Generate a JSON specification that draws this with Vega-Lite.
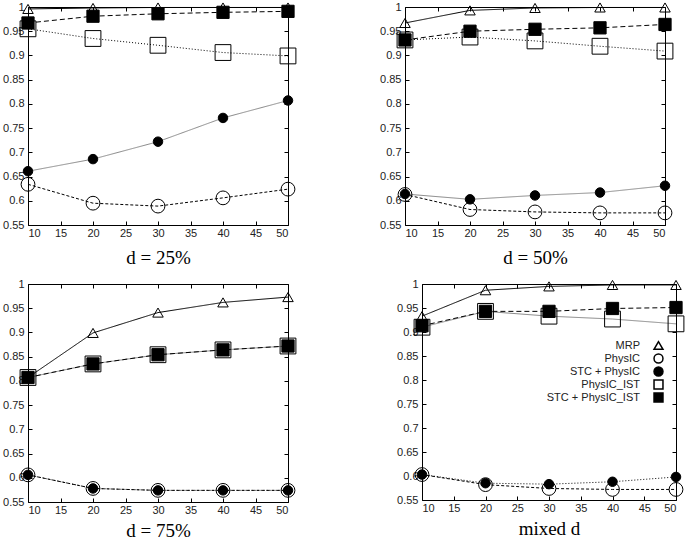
{
  "$schema": "https://vega.github.io/schema/vega-lite/v6.json",
  "padding": {"left": 2, "top": 0, "right": 0, "bottom": 0},
  "background": "white",
  "config": {
    "view": {"stroke": "black", "strokeWidth": 1},
    "axis": {"grid": false, "domain": false, "labelFont": "Liberation Sans", "labelFontSize": 11, "labelColor": "#222", "tickColor": "black", "titleFont": "Liberation Serif", "titleFontSize": 19, "titleFontWeight": "normal", "titleColor": "black"},
    "legend": {"labelFont": "Liberation Sans", "labelFontSize": 11, "labelColor": "#222"}
  },
  "data": {"values": [
    {"panel": "p1", "series": "MRP", "n": 10, "v": 0.996},
    {"panel": "p1", "series": "MRP", "n": 20, "v": 0.998},
    {"panel": "p1", "series": "MRP", "n": 30, "v": 0.999},
    {"panel": "p1", "series": "MRP", "n": 40, "v": 0.999},
    {"panel": "p1", "series": "MRP", "n": 50, "v": 0.999},
    {"panel": "p1", "series": "PhysIC", "n": 10, "v": 0.634},
    {"panel": "p1", "series": "PhysIC", "n": 20, "v": 0.595},
    {"panel": "p1", "series": "PhysIC", "n": 30, "v": 0.589},
    {"panel": "p1", "series": "PhysIC", "n": 40, "v": 0.606},
    {"panel": "p1", "series": "PhysIC", "n": 50, "v": 0.624},
    {"panel": "p1", "series": "STC + PhysIC", "n": 10, "v": 0.661},
    {"panel": "p1", "series": "STC + PhysIC", "n": 20, "v": 0.686},
    {"panel": "p1", "series": "STC + PhysIC", "n": 30, "v": 0.722},
    {"panel": "p1", "series": "STC + PhysIC", "n": 40, "v": 0.771},
    {"panel": "p1", "series": "STC + PhysIC", "n": 50, "v": 0.807},
    {"panel": "p1", "series": "PhysIC_IST", "n": 10, "v": 0.955},
    {"panel": "p1", "series": "PhysIC_IST", "n": 20, "v": 0.935},
    {"panel": "p1", "series": "PhysIC_IST", "n": 30, "v": 0.921},
    {"panel": "p1", "series": "PhysIC_IST", "n": 40, "v": 0.906},
    {"panel": "p1", "series": "PhysIC_IST", "n": 50, "v": 0.899},
    {"panel": "p1", "series": "STC + PhysIC_IST", "n": 10, "v": 0.967},
    {"panel": "p1", "series": "STC + PhysIC_IST", "n": 20, "v": 0.981},
    {"panel": "p1", "series": "STC + PhysIC_IST", "n": 30, "v": 0.986},
    {"panel": "p1", "series": "STC + PhysIC_IST", "n": 40, "v": 0.989},
    {"panel": "p1", "series": "STC + PhysIC_IST", "n": 50, "v": 0.991},

    {"panel": "p2", "series": "MRP", "n": 10, "v": 0.967},
    {"panel": "p2", "series": "MRP", "n": 20, "v": 0.993},
    {"panel": "p2", "series": "MRP", "n": 30, "v": 0.998},
    {"panel": "p2", "series": "MRP", "n": 40, "v": 0.999},
    {"panel": "p2", "series": "MRP", "n": 50, "v": 0.999},
    {"panel": "p2", "series": "PhysIC", "n": 10, "v": 0.613},
    {"panel": "p2", "series": "PhysIC", "n": 20, "v": 0.582},
    {"panel": "p2", "series": "PhysIC", "n": 30, "v": 0.577},
    {"panel": "p2", "series": "PhysIC", "n": 40, "v": 0.575},
    {"panel": "p2", "series": "PhysIC", "n": 50, "v": 0.575},
    {"panel": "p2", "series": "STC + PhysIC", "n": 10, "v": 0.614},
    {"panel": "p2", "series": "STC + PhysIC", "n": 20, "v": 0.603},
    {"panel": "p2", "series": "STC + PhysIC", "n": 30, "v": 0.611},
    {"panel": "p2", "series": "STC + PhysIC", "n": 40, "v": 0.617},
    {"panel": "p2", "series": "STC + PhysIC", "n": 50, "v": 0.631},
    {"panel": "p2", "series": "PhysIC_IST", "n": 10, "v": 0.932},
    {"panel": "p2", "series": "PhysIC_IST", "n": 20, "v": 0.938},
    {"panel": "p2", "series": "PhysIC_IST", "n": 30, "v": 0.930},
    {"panel": "p2", "series": "PhysIC_IST", "n": 40, "v": 0.919},
    {"panel": "p2", "series": "PhysIC_IST", "n": 50, "v": 0.909},
    {"panel": "p2", "series": "STC + PhysIC_IST", "n": 10, "v": 0.932},
    {"panel": "p2", "series": "STC + PhysIC_IST", "n": 20, "v": 0.950},
    {"panel": "p2", "series": "STC + PhysIC_IST", "n": 30, "v": 0.954},
    {"panel": "p2", "series": "STC + PhysIC_IST", "n": 40, "v": 0.957},
    {"panel": "p2", "series": "STC + PhysIC_IST", "n": 50, "v": 0.964},

    {"panel": "p3", "series": "MRP", "n": 10, "v": 0.807},
    {"panel": "p3", "series": "MRP", "n": 20, "v": 0.899},
    {"panel": "p3", "series": "MRP", "n": 30, "v": 0.941},
    {"panel": "p3", "series": "MRP", "n": 40, "v": 0.962},
    {"panel": "p3", "series": "MRP", "n": 50, "v": 0.973},
    {"panel": "p3", "series": "PhysIC", "n": 10, "v": 0.606},
    {"panel": "p3", "series": "PhysIC", "n": 20, "v": 0.578},
    {"panel": "p3", "series": "PhysIC", "n": 30, "v": 0.574},
    {"panel": "p3", "series": "PhysIC", "n": 40, "v": 0.574},
    {"panel": "p3", "series": "PhysIC", "n": 50, "v": 0.574},
    {"panel": "p3", "series": "STC + PhysIC", "n": 10, "v": 0.606},
    {"panel": "p3", "series": "STC + PhysIC", "n": 20, "v": 0.578},
    {"panel": "p3", "series": "STC + PhysIC", "n": 30, "v": 0.574},
    {"panel": "p3", "series": "STC + PhysIC", "n": 40, "v": 0.574},
    {"panel": "p3", "series": "STC + PhysIC", "n": 50, "v": 0.574},
    {"panel": "p3", "series": "PhysIC_IST", "n": 10, "v": 0.807},
    {"panel": "p3", "series": "PhysIC_IST", "n": 20, "v": 0.835},
    {"panel": "p3", "series": "PhysIC_IST", "n": 30, "v": 0.854},
    {"panel": "p3", "series": "PhysIC_IST", "n": 40, "v": 0.864},
    {"panel": "p3", "series": "PhysIC_IST", "n": 50, "v": 0.872},
    {"panel": "p3", "series": "STC + PhysIC_IST", "n": 10, "v": 0.807},
    {"panel": "p3", "series": "STC + PhysIC_IST", "n": 20, "v": 0.835},
    {"panel": "p3", "series": "STC + PhysIC_IST", "n": 30, "v": 0.854},
    {"panel": "p3", "series": "STC + PhysIC_IST", "n": 40, "v": 0.864},
    {"panel": "p3", "series": "STC + PhysIC_IST", "n": 50, "v": 0.872},

    {"panel": "p4", "series": "MRP", "n": 10, "v": 0.933},
    {"panel": "p4", "series": "MRP", "n": 20, "v": 0.987},
    {"panel": "p4", "series": "MRP", "n": 30, "v": 0.995},
    {"panel": "p4", "series": "MRP", "n": 40, "v": 0.998},
    {"panel": "p4", "series": "MRP", "n": 50, "v": 0.998},
    {"panel": "p4", "series": "PhysIC", "n": 10, "v": 0.603},
    {"panel": "p4", "series": "PhysIC", "n": 20, "v": 0.582},
    {"panel": "p4", "series": "PhysIC", "n": 30, "v": 0.574},
    {"panel": "p4", "series": "PhysIC", "n": 40, "v": 0.572},
    {"panel": "p4", "series": "PhysIC", "n": 50, "v": 0.572},
    {"panel": "p4", "series": "STC + PhysIC", "n": 10, "v": 0.603},
    {"panel": "p4", "series": "STC + PhysIC", "n": 20, "v": 0.585},
    {"panel": "p4", "series": "STC + PhysIC", "n": 30, "v": 0.583},
    {"panel": "p4", "series": "STC + PhysIC", "n": 40, "v": 0.588},
    {"panel": "p4", "series": "STC + PhysIC", "n": 50, "v": 0.598},
    {"panel": "p4", "series": "PhysIC_IST", "n": 10, "v": 0.910},
    {"panel": "p4", "series": "PhysIC_IST", "n": 20, "v": 0.943},
    {"panel": "p4", "series": "PhysIC_IST", "n": 30, "v": 0.933},
    {"panel": "p4", "series": "PhysIC_IST", "n": 40, "v": 0.927},
    {"panel": "p4", "series": "PhysIC_IST", "n": 50, "v": 0.917},
    {"panel": "p4", "series": "STC + PhysIC_IST", "n": 10, "v": 0.913},
    {"panel": "p4", "series": "STC + PhysIC_IST", "n": 20, "v": 0.943},
    {"panel": "p4", "series": "STC + PhysIC_IST", "n": 30, "v": 0.943},
    {"panel": "p4", "series": "STC + PhysIC_IST", "n": 40, "v": 0.949},
    {"panel": "p4", "series": "STC + PhysIC_IST", "n": 50, "v": 0.951}
  ]},
  "columns": 2,
  "align": "none",
  "spacing": {"row": 9, "column": 80},
  "resolve": {"scale": {"strokeDash": "independent", "color": "independent", "shape": "independent", "fill": "independent", "size": "independent"}, "legend": {"shape": "independent", "fill": "independent", "size": "independent", "color": "independent", "strokeDash": "independent"}},
  "concat": [
    {
      "width": 260, "height": 218,
      "transform": [{"filter": "datum.panel === 'p1'"}],
      "layer": [
        {
          "mark": {"type": "line", "strokeWidth": 1},
          "encoding": {
            "x": {"field": "n", "type": "quantitative", "scale": {"domain": [10, 50], "nice": false}, "axis": {"orient": "bottom", "values": [10,15,20,25,30,35,40,45,50], "tickSize": -4, "labelPadding": 6, "title": "d = 25%", "titlePadding": 10}},
            "y": {"field": "v", "type": "quantitative", "scale": {"domain": [0.55, 1], "nice": false, "zero": false}, "axis": {"orient": "left", "values": [0.55,0.6,0.65,0.7,0.75,0.8,0.85,0.9,0.95,1], "format": "~g", "tickSize": -4, "labelPadding": 8, "title": null}},
            "strokeDash": {"field": "series", "type": "nominal", "scale": {"domain": ["MRP", "PhysIC", "STC + PhysIC", "PhysIC_IST", "STC + PhysIC_IST"], "range": [[1, 0], [3, 2], [1, 0], [1, 2], [5, 3]]}, "legend": null},
            "color": {"field": "series", "type": "nominal", "scale": {"domain": ["MRP", "PhysIC", "STC + PhysIC", "PhysIC_IST", "STC + PhysIC_IST"], "range": ["black", "black", "#888", "black", "black"]}, "legend": null}
          }
        },
        {
          "mark": {"type": "point", "stroke": "black", "strokeWidth": 1, "opacity": 1},
          "encoding": {
            "x": {"field": "n", "type": "quantitative", "axis": {"orient": "top", "values": [10,15,20,25,30,35,40,45,50], "labels": false, "tickSize": -4, "title": null}},
            "y": {"field": "v", "type": "quantitative", "axis": {"orient": "right", "values": [0.55,0.6,0.65,0.7,0.75,0.8,0.85,0.9,0.95,1], "labels": false, "tickSize": -4, "title": null}},
            "shape": {"field": "series", "type": "nominal", "scale": {"domain": ["MRP", "PhysIC", "STC + PhysIC", "PhysIC_IST", "STC + PhysIC_IST"], "range": ["triangle-up", "circle", "circle", "square", "square"]}, "legend": null},
            "fill": {"field": "series", "type": "nominal", "scale": {"domain": ["MRP", "PhysIC", "STC + PhysIC", "PhysIC_IST", "STC + PhysIC_IST"], "range": ["transparent", "transparent", "black", "transparent", "black"]}, "legend": null},
            "size": {"field": "series", "type": "nominal", "scale": {"type": "ordinal", "domain": ["MRP", "PhysIC", "STC + PhysIC", "PhysIC_IST", "STC + PhysIC_IST"], "range": [110, 190, 90, 250, 150]}, "legend": null}
          }
        }
      ],
      "resolve": {"axis": {"x": "independent", "y": "independent"}}
    },
    {
      "width": 260, "height": 218,
      "transform": [{"filter": "datum.panel === 'p2'"}],
      "layer": [
        {
          "mark": {"type": "line", "strokeWidth": 1},
          "encoding": {
            "x": {"field": "n", "type": "quantitative", "scale": {"domain": [10, 50], "nice": false}, "axis": {"orient": "bottom", "values": [10,15,20,25,30,35,40,45,50], "tickSize": -4, "labelPadding": 6, "title": "d = 50%", "titlePadding": 10}},
            "y": {"field": "v", "type": "quantitative", "scale": {"domain": [0.55, 1], "nice": false, "zero": false}, "axis": {"orient": "left", "values": [0.55,0.6,0.65,0.7,0.75,0.8,0.85,0.9,0.95,1], "format": "~g", "tickSize": -4, "labelPadding": 8, "title": null}},
            "strokeDash": {"field": "series", "type": "nominal", "scale": {"domain": ["MRP", "PhysIC", "STC + PhysIC", "PhysIC_IST", "STC + PhysIC_IST"], "range": [[1, 0], [3, 2], [1, 0], [1, 2], [5, 3]]}, "legend": null},
            "color": {"field": "series", "type": "nominal", "scale": {"domain": ["MRP", "PhysIC", "STC + PhysIC", "PhysIC_IST", "STC + PhysIC_IST"], "range": ["black", "black", "#888", "black", "black"]}, "legend": null}
          }
        },
        {
          "mark": {"type": "point", "stroke": "black", "strokeWidth": 1, "opacity": 1},
          "encoding": {
            "x": {"field": "n", "type": "quantitative", "axis": {"orient": "top", "values": [10,15,20,25,30,35,40,45,50], "labels": false, "tickSize": -4, "title": null}},
            "y": {"field": "v", "type": "quantitative", "axis": {"orient": "right", "values": [0.55,0.6,0.65,0.7,0.75,0.8,0.85,0.9,0.95,1], "labels": false, "tickSize": -4, "title": null}},
            "shape": {"field": "series", "type": "nominal", "scale": {"domain": ["MRP", "PhysIC", "STC + PhysIC", "PhysIC_IST", "STC + PhysIC_IST"], "range": ["triangle-up", "circle", "circle", "square", "square"]}, "legend": null},
            "fill": {"field": "series", "type": "nominal", "scale": {"domain": ["MRP", "PhysIC", "STC + PhysIC", "PhysIC_IST", "STC + PhysIC_IST"], "range": ["transparent", "transparent", "black", "transparent", "black"]}, "legend": null},
            "size": {"field": "series", "type": "nominal", "scale": {"type": "ordinal", "domain": ["MRP", "PhysIC", "STC + PhysIC", "PhysIC_IST", "STC + PhysIC_IST"], "range": [110, 190, 90, 250, 150]}, "legend": null}
          }
        }
      ],
      "resolve": {"axis": {"x": "independent", "y": "independent"}}
    },
    {
      "width": 260, "height": 218,
      "transform": [{"filter": "datum.panel === 'p3'"}],
      "layer": [
        {
          "mark": {"type": "line", "strokeWidth": 1},
          "encoding": {
            "x": {"field": "n", "type": "quantitative", "scale": {"domain": [10, 50], "nice": false}, "axis": {"orient": "bottom", "values": [10,15,20,25,30,35,40,45,50], "tickSize": -4, "labelPadding": 6, "title": "d = 75%", "titlePadding": 6}},
            "y": {"field": "v", "type": "quantitative", "scale": {"domain": [0.55, 1], "nice": false, "zero": false}, "axis": {"orient": "left", "values": [0.55,0.6,0.65,0.7,0.75,0.8,0.85,0.9,0.95,1], "format": "~g", "tickSize": -4, "labelPadding": 8, "title": null}},
            "strokeDash": {"field": "series", "type": "nominal", "scale": {"domain": ["MRP", "PhysIC", "STC + PhysIC", "PhysIC_IST", "STC + PhysIC_IST"], "range": [[1, 0], [3, 2], [1, 2], [1, 0], [5, 3]]}, "legend": null},
            "color": {"field": "series", "type": "nominal", "scale": {"domain": ["MRP", "PhysIC", "STC + PhysIC", "PhysIC_IST", "STC + PhysIC_IST"], "range": ["black", "black", "black", "#888", "black"]}, "legend": null}
          }
        },
        {
          "mark": {"type": "point", "stroke": "black", "strokeWidth": 1, "opacity": 1},
          "encoding": {
            "x": {"field": "n", "type": "quantitative", "axis": {"orient": "top", "values": [10,15,20,25,30,35,40,45,50], "labels": false, "tickSize": -4, "title": null}},
            "y": {"field": "v", "type": "quantitative", "axis": {"orient": "right", "values": [0.55,0.6,0.65,0.7,0.75,0.8,0.85,0.9,0.95,1], "labels": false, "tickSize": -4, "title": null}},
            "shape": {"field": "series", "type": "nominal", "scale": {"domain": ["MRP", "PhysIC", "STC + PhysIC", "PhysIC_IST", "STC + PhysIC_IST"], "range": ["triangle-up", "circle", "circle", "square", "square"]}, "legend": null},
            "fill": {"field": "series", "type": "nominal", "scale": {"domain": ["MRP", "PhysIC", "STC + PhysIC", "PhysIC_IST", "STC + PhysIC_IST"], "range": ["transparent", "transparent", "black", "transparent", "black"]}, "legend": null},
            "size": {"field": "series", "type": "nominal", "scale": {"type": "ordinal", "domain": ["MRP", "PhysIC", "STC + PhysIC", "PhysIC_IST", "STC + PhysIC_IST"], "range": [110, 190, 90, 250, 150]}, "legend": null}
          }
        }
      ],
      "resolve": {"axis": {"x": "independent", "y": "independent"}}
    },
    {
      "width": 254, "height": 216,
      "transform": [{"filter": "datum.panel === 'p4'"}],
      "layer": [
        {
          "mark": {"type": "line", "strokeWidth": 1},
          "encoding": {
            "x": {"field": "n", "type": "quantitative", "scale": {"domain": [10, 50], "nice": false}, "axis": {"orient": "bottom", "values": [10,15,20,25,30,35,40,45,50], "tickSize": -4, "labelPadding": 6, "title": "mixed d", "titlePadding": 6}},
            "y": {"field": "v", "type": "quantitative", "scale": {"domain": [0.55, 1], "nice": false, "zero": false}, "axis": {"orient": "left", "values": [0.55,0.6,0.65,0.7,0.75,0.8,0.85,0.9,0.95,1], "format": "~g", "tickSize": -4, "labelPadding": 8, "title": null, "minExtent": 42}},
            "strokeDash": {"field": "series", "type": "nominal", "scale": {"domain": ["STC + PhysIC_IST", "PhysIC_IST", "STC + PhysIC", "PhysIC", "MRP"], "range": [[5, 3], [1, 0], [1, 2], [3, 2], [1, 0]]}, "legend": null},
            "color": {"field": "series", "type": "nominal", "scale": {"domain": ["STC + PhysIC_IST", "PhysIC_IST", "STC + PhysIC", "PhysIC", "MRP"], "range": ["black", "#888", "black", "black", "black"]}, "legend": null}
          }
        },
        {
          "mark": {"type": "point", "stroke": "black", "strokeWidth": 1, "opacity": 1},
          "encoding": {
            "x": {"field": "n", "type": "quantitative", "axis": {"orient": "top", "values": [10,15,20,25,30,35,40,45,50], "labels": false, "tickSize": -4, "title": null}},
            "y": {"field": "v", "type": "quantitative", "axis": {"orient": "right", "values": [0.55,0.6,0.65,0.7,0.75,0.8,0.85,0.9,0.95,1], "labels": false, "tickSize": -4, "title": null}},
            "shape": {"field": "series", "type": "nominal", "scale": {"domain": ["MRP", "PhysIC", "STC + PhysIC", "PhysIC_IST", "STC + PhysIC_IST"], "range": ["triangle-up", "circle", "circle", "square", "square"]}, "legend": {"title": null, "orient": "none", "legendX": 231, "legendY": 56, "labelAlign": "right", "labelOffset": -24, "symbolSize": 80, "rowPadding": -4, "padding": 0, "encode": {"symbols": {"update": {"stroke": {"value": "black"}, "strokeWidth": {"value": 1}}}}}},
            "fill": {"field": "series", "type": "nominal", "scale": {"domain": ["MRP", "PhysIC", "STC + PhysIC", "PhysIC_IST", "STC + PhysIC_IST"], "range": ["transparent", "transparent", "black", "transparent", "black"]}, "legend": {"title": null, "orient": "none", "legendX": 231, "legendY": 56, "labelAlign": "right", "labelOffset": -24, "symbolSize": 80, "rowPadding": -4, "padding": 0, "encode": {"symbols": {"update": {"stroke": {"value": "black"}, "strokeWidth": {"value": 1}}}}}},
            "size": {"field": "series", "type": "nominal", "scale": {"type": "ordinal", "domain": ["STC + PhysIC_IST", "PhysIC_IST", "STC + PhysIC", "PhysIC", "MRP"], "range": [150, 250, 90, 190, 110]}, "legend": null}
          }
        }
      ],
      "resolve": {"axis": {"x": "independent", "y": "independent"}}
    }
  ]
}
